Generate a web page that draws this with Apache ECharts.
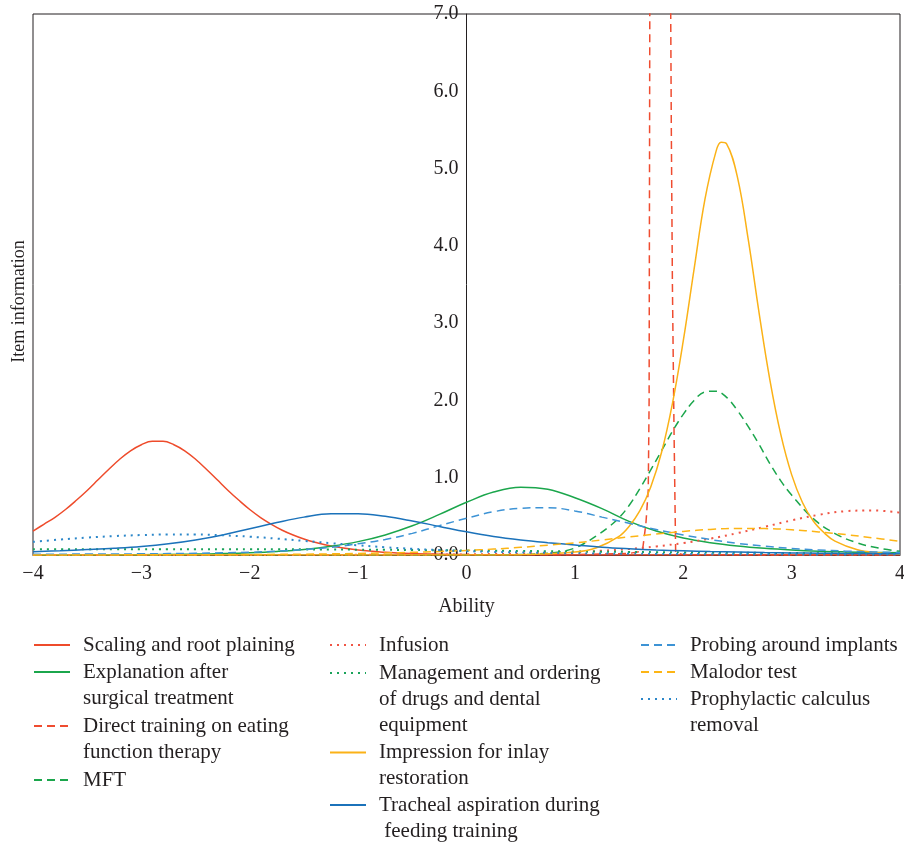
<!DOCTYPE html>
<html><head><meta charset="utf-8">
<script src="https://cdn.jsdelivr.net/npm/echarts@6/dist/echarts.min.js"></script>
<style>html,body{margin:0;padding:0;background:#fff}#chart{width:904px;height:844px}</style>
</head><body><div id="chart"></div>
<script>
// ---------- data ----------
const abilityGrid = [-4, -3.75, -3.5, -3.25, -3, -2.75, -2.5, -2.25, -2, -1.75, -1.5, -1.25, -1, -0.75, -0.5, -0.25, 0, 0.25, 0.5, 0.75, 1, 1.25, 1.5, 1.75, 2, 2.25, 2.5, 2.75, 3, 3.25, 3.5, 3.75, 4];

const scalingAbility = [-4, -3.9, -3.8, -3.7, -3.6, -3.5, -3.4, -3.3, -3.2, -3.1, -3, -2.9, -2.8, -2.7, -2.6, -2.5, -2.4, -2.3, -2.2, -2.1, -2, -1.9, -1.8, -1.7, -1.6, -1.5, -1.4, -1.25, -1, -0.75, -0.5, -0.25, 0, 0.5, 1, 2, 3, 4];
const scalingInfo = [0.31, 0.397, 0.485, 0.589, 0.708, 0.835, 0.973, 1.11, 1.239, 1.348, 1.427, 1.471, 1.471, 1.427, 1.348, 1.239, 1.11, 0.973, 0.835, 0.708, 0.589, 0.485, 0.397, 0.32, 0.258, 0.206, 0.165, 0.116, 0.064, 0.035, 0.019, 0.011, 0.006, 0.002, 0.001, 0, 0, 0];
const explanationInfo = [0.001, 0.0012, 0.002, 0.003, 0.0045, 0.0072, 0.0115, 0.0184, 0.029, 0.046, 0.072, 0.113, 0.173, 0.26, 0.378, 0.525, 0.682, 0.814, 0.877, 0.85, 0.741, 0.6, 0.435, 0.31, 0.22, 0.16, 0.118, 0.088, 0.066, 0.05, 0.04, 0.033, 0.028];
const infusionInfo = [0, 0, 0, 0, 0.0001, 0.0001, 0.0002, 0.0003, 0.0004, 0.0006, 0.0009, 0.0013, 0.0019, 0.0027, 0.004, 0.0059, 0.0086, 0.0125, 0.018, 0.0264, 0.038, 0.055, 0.078, 0.111, 0.155, 0.212, 0.283, 0.364, 0.448, 0.52, 0.567, 0.577, 0.547];
const managementInfo = [0.073, 0.074, 0.075, 0.075, 0.076, 0.076, 0.076, 0.076, 0.075, 0.074, 0.073, 0.071, 0.069, 0.067, 0.064, 0.061, 0.058, 0.055, 0.052, 0.049, 0.046, 0.043, 0.04, 0.037, 0.034, 0.031, 0.029, 0.027, 0.025, 0.023, 0.021, 0.019, 0.018];
const trachealInfo = [0.043, 0.055, 0.07, 0.087, 0.11, 0.145, 0.195, 0.26, 0.34, 0.42, 0.49, 0.533, 0.535, 0.5, 0.44, 0.37, 0.3, 0.24, 0.195, 0.16, 0.13, 0.1, 0.08, 0.065, 0.055, 0.045, 0.038, 0.032, 0.027, 0.023, 0.02, 0.018, 0.016];
const probingInfo = [0.01, 0.011, 0.012, 0.013, 0.015, 0.018, 0.022, 0.028, 0.035, 0.05, 0.07, 0.1, 0.145, 0.2, 0.28, 0.38, 0.475, 0.56, 0.605, 0.612, 0.57, 0.49, 0.41, 0.33, 0.26, 0.2, 0.15, 0.115, 0.085, 0.065, 0.05, 0.04, 0.032];
const malodorInfo = [0.0006, 0.0008, 0.0011, 0.0015, 0.0019, 0.0026, 0.0035, 0.0047, 0.0062, 0.0083, 0.011, 0.0148, 0.02, 0.026, 0.034, 0.045, 0.059, 0.077, 0.099, 0.127, 0.158, 0.194, 0.234, 0.271, 0.305, 0.331, 0.344, 0.342, 0.327, 0.299, 0.264, 0.222, 0.178];
const prophylacticInfo = [0.17, 0.2, 0.225, 0.245, 0.258, 0.265, 0.265, 0.255, 0.237, 0.212, 0.183, 0.153, 0.125, 0.1, 0.08, 0.063, 0.05, 0.04, 0.033, 0.027, 0.022, 0.019, 0.016, 0.014, 0.012, 0.011, 0.01, 0.009, 0.008, 0.007, 0.006, 0.0055, 0.005];

const mftAbility = [-4, -3, -2, -1, 0, 0.4, 0.6, 0.8, 0.9, 1.0, 1.1, 1.2, 1.3, 1.4, 1.5, 1.6, 1.7, 1.8, 1.9, 2.0, 2.1, 2.2, 2.3, 2.4, 2.5, 2.6, 2.7, 2.8, 2.9, 3.0, 3.2, 3.4, 3.6, 3.8, 4.0];
const mftInfo = [0, 0, 0, 0.0005, 0.001, 0.004, 0.01, 0.03, 0.05, 0.09, 0.16, 0.25, 0.35, 0.47, 0.64, 0.86, 1.1, 1.35, 1.6, 1.82, 2.0, 2.11, 2.12, 2.04, 1.87, 1.66, 1.43, 1.18, 0.96, 0.775, 0.47, 0.277, 0.16, 0.09, 0.048];

const impressionAbility = [-4, -2, 0, 0.5, 1.0, 1.2, 1.4, 1.5, 1.6, 1.7, 1.8, 1.9, 2.0, 2.1, 2.2, 2.3, 2.35, 2.4, 2.5, 2.6, 2.7, 2.8, 2.9, 3.0, 3.1, 3.2, 3.3, 3.4, 3.6, 3.8, 4.0];
const impressionInfo = [0, 0, 0, 0.004, 0.038, 0.094, 0.234, 0.37, 0.573, 0.88, 1.33, 1.96, 2.77, 3.7, 4.6, 5.21, 5.34, 5.32, 4.89, 4.08, 3.13, 2.26, 1.56, 1.04, 0.68, 0.44, 0.287, 0.18, 0.072, 0.028, 0.011];

const directAbility = [-4, -2, 0, 1.0, 1.5, 1.6, 1.625, 1.655, 1.677, 1.685, 1.692, 1.75, 1.82, 1.882, 1.89, 1.9, 1.915, 1.93, 2.0, 3.0, 4.0];
const directInfo = [0, 0, 0.002, 0.005, 0.02, 0.045, 0.07, 0.4, 0.84, 2.0, 7.6, 30, 30, 7.6, 5.5, 3.5, 1.6, 0.03, 0.005, 0, 0];

const xTicks = [-4, -3, -2, -1, 0, 1, 2, 3, 4];
const yTicks = [0, 1, 2, 3, 4, 5, 6, 7];

// ---------- styles ----------
const FONT = 'Liberation Serif';
const TXT = '#231F20';
const DASH = [8, 5];
const DOT = [2, 5];

function pairs(xs, ys) { return xs.map((x, i) => [x, ys[i]]); }

const seriesDefs = [
  { name: 'Scaling and root plaining', label: 'Scaling and root plaining', xs: scalingAbility, ys: scalingInfo, color: '#EE4B2B', type: 'solid', col: 0, row: 645, lines: 1 },
  { name: 'Explanation after surgical treatment', label: 'Explanation after\nsurgical treatment', xs: abilityGrid, ys: explanationInfo, color: '#1BA64C', type: 'solid', col: 0, row: 672, lines: 2 },
  { name: 'Direct training on eating function therapy', label: 'Direct training on eating\nfunction therapy', xs: directAbility, ys: directInfo, color: '#EF4C30', type: DASH, col: 0, row: 726, lines: 2, sharp: true },
  { name: 'MFT', label: 'MFT', xs: mftAbility, ys: mftInfo, color: '#1BA64C', type: DASH, col: 0, row: 780, lines: 1 },
  { name: 'Infusion', label: 'Infusion', xs: abilityGrid, ys: infusionInfo, color: '#F05545', type: DOT, col: 1, row: 645, lines: 1 },
  { name: 'Management and ordering of drugs and dental equipment', label: 'Management and ordering\nof drugs and dental\nequipment', xs: abilityGrid, ys: managementInfo, color: '#1AA35A', type: DOT, col: 1, row: 673, lines: 3 },
  { name: 'Impression for inlay restoration', label: 'Impression for inlay\nrestoration', xs: impressionAbility, ys: impressionInfo, color: '#FBB217', type: 'solid', col: 1, row: 752.5, lines: 2 },
  { name: 'Tracheal aspiration during feeding training', label: 'Tracheal aspiration during\n feeding training', xs: abilityGrid, ys: trachealInfo, color: '#1B72BA', type: 'solid', col: 1, row: 805, lines: 2 },
  { name: 'Probing around implants', label: 'Probing around implants', xs: abilityGrid, ys: probingInfo, color: '#3D93D5', type: DASH, col: 2, row: 645, lines: 1 },
  { name: 'Malodor test', label: 'Malodor test', xs: abilityGrid, ys: malodorInfo, color: '#FDB515', type: DASH, col: 2, row: 672, lines: 1 },
  { name: 'Prophylactic calculus removal', label: 'Prophylactic calculus\nremoval', xs: abilityGrid, ys: prophylacticInfo, color: '#2C87C9', type: DOT, col: 2, row: 699, lines: 2 }
];

const colLeft = [33, 329, 640];
const LH = 26;

const series = seriesDefs.map(d => ({
  type: 'line',
  name: d.name,
  data: pairs(d.xs, d.ys),
  symbol: 'none',
  smooth: d.sharp ? false : 0.4,
  clip: true,
  yAxisIndex: 0,
  lineStyle: { color: d.color, width: d.type === DOT ? 2 : 1.5, type: d.type },
  itemStyle: { color: d.color },
  emphasis: { disabled: true },
  animation: false
}));

const legends = seriesDefs.map(d => ({
  data: [d.name],
  left: colLeft[d.col],
  top: d.row - (2 * d.lines - 1) * LH / 2,
  orient: 'vertical',
  padding: 0,
  itemGap: 0,
  itemWidth: 36,
  itemHeight: 14,
  selectedMode: false,
  itemStyle: { opacity: 0 },
  formatter: () => d.label.split('\n').map(s => '{t|' + s + '}').join('\n'),
  textStyle: {
    padding: [(d.lines - 1) * LH, 0, 0, 8],
    backgroundColor: 'rgba(255,255,255,0)',
    rich: { t: { fontFamily: FONT, fontSize: 21, color: TXT, lineHeight: LH } }
  }
}));

const chart = echarts.init(document.getElementById('chart'), null, { renderer: 'canvas' });
chart.setOption({
  animation: false,
  backgroundColor: '#fff',
  grid: { left: 33, right: 4, top: 14, bottom: 289, show: true, borderColor: TXT, borderWidth: 1,
    backgroundColor: 'transparent', containLabel: false, outerBoundsMode: 'none' },
  xAxis: {
    type: 'value', min: xTicks[0], max: xTicks[xTicks.length - 1], interval: 1,
    name: 'Ability', nameLocation: 'middle', nameGap: 42,
    nameTextStyle: { fontFamily: FONT, fontSize: 20, color: TXT },
    axisLine: { onZero: false, lineStyle: { color: TXT, width: 1 } },
    axisTick: { show: false },
    splitLine: { show: false },
    axisLabel: { margin: 9, fontFamily: FONT, fontSize: 20, color: TXT,
      formatter: v => (v < 0 ? '\u2212' + Math.abs(v) : String(v)) }
  },
  yAxis: [
    {
      type: 'value', min: yTicks[0], max: yTicks[yTicks.length - 1], interval: 1,
      position: 'left', offset: -433.5,
      axisLine: { onZero: false, lineStyle: { color: TXT, width: 1 } },
      axisTick: { show: false },
      splitLine: { show: false },
      axisLabel: { margin: 8, fontFamily: FONT, fontSize: 20, color: TXT, formatter: v => v.toFixed(1) }
    },
    {
      type: 'value', min: 0, max: 7, position: 'left',
      axisLine: { show: false, onZero: false },
      axisTick: { show: false }, axisLabel: { show: false }, splitLine: { show: false },
      name: 'Item information', nameLocation: 'middle', nameGap: 5,
      nameTextStyle: { fontFamily: FONT, fontSize: 18, color: TXT, padding: [0, 34, 0, 0] }
    }
  ],
  legend: legends,
  series: series
});
</script></body></html>
